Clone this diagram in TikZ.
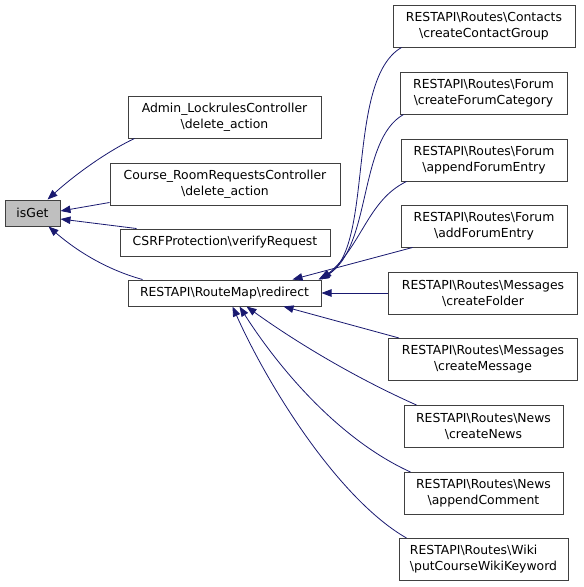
\documentclass[tikz,border=0pt]{standalone}
\usepackage{fontspec}
\setmainfont{DejaVu Sans}
\usetikzlibrary{arrows.meta,positioning,calc}
\definecolor{cEdge}{HTML}{191970}
\definecolor{cLine}{HTML}{404040}
\definecolor{cSel}{HTML}{BFBFBF}
\tikzset{
  fn/.style={draw=cLine,line width=1pt,fill=white,inner sep=2pt,align=center,
    font=\fontsize{12.4}{16}\selectfont,minimum height=42pt},
  fnone/.style={fn,minimum height=26pt},
  fnsel/.style={fnone,fill=cSel},
  call/.style={-{Triangle[length=10pt,width=7.5pt]},line width=0.8pt,cEdge},
}
\begin{document}
\begin{tikzpicture}[x=1pt,y=-1pt]
  \useasboundingbox (0,0) rectangle (584,587);
  % called function
  \node[fnsel,minimum width=55pt] (isget) at (32.5,213) {isGet};
  % direct callers
  \node[fn,minimum width=193pt] (admin) at (224.5,117) {Admin\_LockrulesController\\\textbackslash delete\_action};
  \node[fn,minimum width=230pt] (course) at (225,184) {Course\_RoomRequestsController\\\textbackslash delete\_action};
  \node[fnone,minimum width=210pt,minimum height=27pt] (csrf) at (225,242.5) {CSRFProtection\textbackslash verifyRequest};
  \node[fnone,minimum width=193pt] (redirect) at (224.5,293) {RESTAPI\textbackslash RouteMap\textbackslash redirect};
  % callers of redirect
  \node[fn,minimum width=182pt] (contacts) at (484,26) {RESTAPI\textbackslash Routes\textbackslash Contacts\\\textbackslash createContactGroup};
  \node[fn,minimum width=167pt] (fcat) at (483.5,93) {RESTAPI\textbackslash Routes\textbackslash Forum\\\textbackslash createForumCategory};
  \node[fn,minimum width=166pt] (fappend) at (484,160) {RESTAPI\textbackslash Routes\textbackslash Forum\\\textbackslash appendForumEntry};
  \node[fn,minimum width=166pt] (fadd) at (484,226) {RESTAPI\textbackslash Routes\textbackslash Forum\\\textbackslash addForumEntry};
  \node[fn,minimum width=189pt] (mfolder) at (483,293) {RESTAPI\textbackslash Routes\textbackslash Messages\\\textbackslash createFolder};
  \node[fn,minimum width=189pt] (mmsg) at (483,359.5) {RESTAPI\textbackslash Routes\textbackslash Messages\\\textbackslash createMessage};
  \node[fn,minimum width=159pt] (news) at (483.5,426.5) {RESTAPI\textbackslash Routes\textbackslash News\\\textbackslash createNews};
  \node[fn,minimum width=159pt] (ncomment) at (483.5,493.5) {RESTAPI\textbackslash Routes\textbackslash News\\\textbackslash appendComment};
  \node[fn,minimum width=169pt,align=left] (wiki) at (483.5,559.5) {RESTAPI\textbackslash Routes\textbackslash Wiki\\\textbackslash putCourseWikiKeyword};

  % edges into isGet
  \draw[call] ([xshift=7pt]admin.south west) .. controls (110,150) and (78,172) .. ([xshift=-13pt]isget.north east);
  \draw[call] ([yshift=3pt]course.south west) -- ([yshift=2pt]isget.east);
  \draw[call] ([xshift=17pt]csrf.north west) -- ([yshift=-6pt]isget.east);
  \draw[call] ([xshift=15pt]redirect.north west) .. controls (108,270) and (78,252) .. ([xshift=-12pt]isget.south east);
  % edges into redirect
  \draw[call] ([xshift=9pt]contacts.south west) .. controls (345,80) and (375,250) .. ([xshift=-3pt]redirect.north east);
  \draw[call] ([xshift=4pt]fcat.south west) .. controls (358,140) and (372,248) .. ([xshift=-2pt]redirect.north east);
  \draw[call] ([xshift=6pt]fappend.south west) .. controls (368,200) and (362,245) .. (redirect.north east);
  \draw[call] ([xshift=12pt]fadd.south west) -- ([xshift=-29pt]redirect.north east);
  \draw[call] (mfolder.west) -- (redirect.east);
  \draw[call] ([xshift=11pt]mmsg.north west) -- ([xshift=-38pt]redirect.south east);
  \draw[call] ([xshift=13pt]news.north west) .. controls (360,380) and (300,345) .. ([xshift=119pt]redirect.south west);
  \draw[call] ([xshift=7pt]ncomment.north west) .. controls (340,440) and (280,370) .. ([xshift=112pt]redirect.south west);
  \draw[call] ([xshift=8pt]wiki.north west) .. controls (340,500) and (270,390) .. ([xshift=105pt]redirect.south west);
\end{tikzpicture}
\end{document}
